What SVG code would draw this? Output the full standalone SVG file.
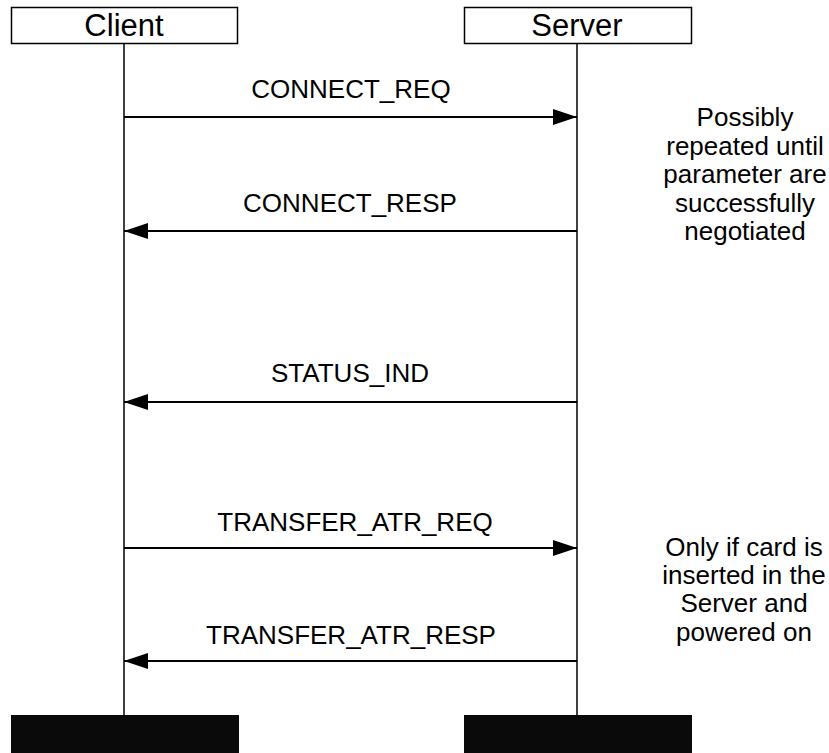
<svg xmlns="http://www.w3.org/2000/svg" width="829" height="753" viewBox="0 0 829 753">
<style>
  text { font-family: "Liberation Sans", Arial, sans-serif; fill: #000; }
  .head { font-size: 31px; text-anchor: middle; }
  .lbl { font-size: 26px; text-anchor: middle; }
  .note { font-size: 26px; text-anchor: middle; }
  .box { fill: #fff; stroke: #000; stroke-width: 1.5; }
  .foot { fill: #0a0a0a; }
  .life { stroke: #000; stroke-width: 1.5; }
  .msg { stroke: #000; stroke-width: 2; fill: none; }
</style>
<defs>
  <marker id="arr" viewBox="0 0 24 16" refX="24" refY="8" markerWidth="24" markerHeight="16" markerUnits="userSpaceOnUse" orient="auto">
    <path d="M0,0 L24,8 L0,16 Z" fill="#000"/>
  </marker>
</defs>
<rect width="829" height="753" fill="#fff"/>
<g id="client">
  <rect class="box" x="11.5" y="7.5" width="226" height="36"/>
  <text class="head" x="124" y="36">Client</text>
  <line class="life" x1="124" y1="44" x2="124" y2="716"/>
  <rect class="foot" x="11" y="715" width="228" height="40"/>
</g>
<g id="server">
  <rect class="box" x="464.5" y="7.5" width="227" height="36"/>
  <text class="head" x="577" y="36">Server</text>
  <line class="life" x1="577" y1="44" x2="577" y2="716"/>
  <rect class="foot" x="464" y="715" width="228" height="40"/>
</g>
<g id="connectors">
  <line class="msg" x1="124" y1="117" x2="577" y2="117" marker-end="url(#arr)"/>
  <line class="msg" x1="577" y1="231" x2="124" y2="231" marker-end="url(#arr)"/>
  <line class="msg" x1="577" y1="402" x2="124" y2="402" marker-end="url(#arr)"/>
  <line class="msg" x1="124" y1="548" x2="577" y2="548" marker-end="url(#arr)"/>
  <line class="msg" x1="577" y1="661" x2="124" y2="661" marker-end="url(#arr)"/>
</g>
<g id="labels">
  <text class="lbl" x="351" y="98">CONNECT_REQ</text>
  <text class="lbl" x="350" y="212">CONNECT_RESP</text>
  <text class="lbl" x="350" y="382">STATUS_IND</text>
  <text class="lbl" x="355" y="531">TRANSFER_ATR_REQ</text>
  <text class="lbl" x="351" y="644">TRANSFER_ATR_RESP</text>
</g>
<g id="note1">
  <text class="note" x="745" y="126">Possibly</text>
  <text class="note" x="745" y="155">repeated until</text>
  <text class="note" x="745" y="183">parameter are</text>
  <text class="note" x="745" y="212">successfully</text>
  <text class="note" x="745" y="240">negotiated</text>
</g>
<g id="note2">
  <text class="note" x="744" y="556">Only if card is</text>
  <text class="note" x="744" y="584">inserted in the</text>
  <text class="note" x="744" y="612">Server and</text>
  <text class="note" x="744" y="641">powered on</text>
</g>
</svg>
